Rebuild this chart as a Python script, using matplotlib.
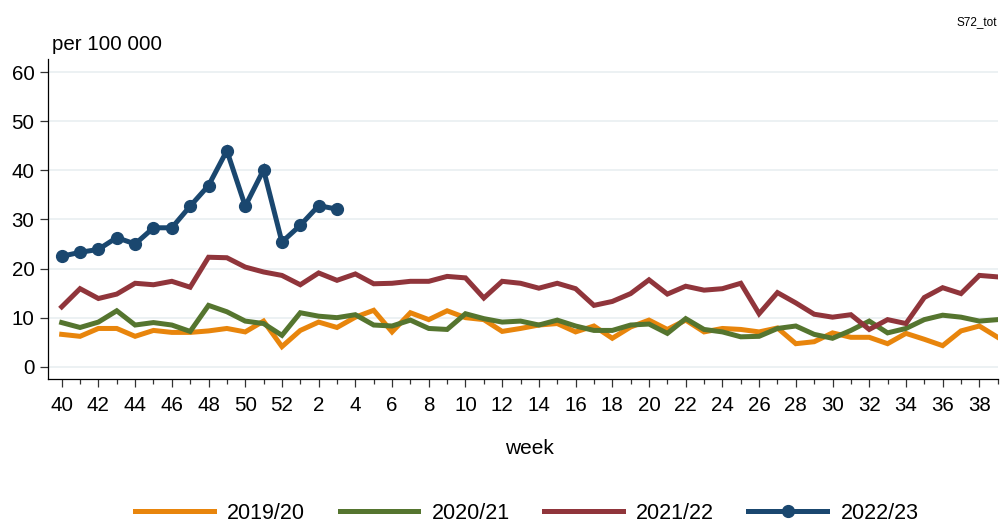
import matplotlib
matplotlib.use("Agg")
import matplotlib.pyplot as plt

plt.rcParams['font.family'] = ['Liberation Sans', 'DejaVu Sans']

weeks = list(range(40, 53)) + list(range(1, 40))
tick_weeks = [w for w in weeks if w % 2 == 0]

s2019 = [6.6, 6.2, 7.8, 7.8, 6.2, 7.4, 7.0, 7.0, 7.3, 7.8,
         7.1, 9.3, 4.1, 7.4, 9.1, 8.0, 10.1, 11.5, 7.1, 11.0,
         9.6, 11.4, 10.0, 9.6, 7.2, 7.8, 8.5, 8.8, 7.1, 8.3,
         5.8, 8.1, 9.5, 7.6, 9.5, 7.1, 7.8, 7.6, 7.1, 7.9,
         4.7, 5.1, 6.9, 6.0, 6.0, 4.7, 6.8, 5.6, 4.3, 7.3,
         8.3, 6.0]
s2020 = [9.0, 8.0, 9.1, 11.4, 8.5, 9.0, 8.5, 7.2, 12.5, 11.2,
         9.3, 8.8, 6.4, 11.0, 10.3, 10.0, 10.6, 8.5, 8.3, 9.5,
         7.8, 7.6, 10.8, 9.8, 9.1, 9.3, 8.5, 9.5, 8.3, 7.4,
         7.4, 8.5, 8.7, 6.8, 9.8, 7.6, 7.1, 6.1, 6.2, 7.8,
         8.3, 6.6, 5.8, 7.4, 9.3, 6.9, 7.8, 9.6, 10.5, 10.1,
         9.3, 9.6]
s2021 = [12.2, 15.9, 13.9, 14.8, 17.0, 16.7, 17.4, 16.2, 22.3, 22.2,
         20.3, 19.3, 18.6, 16.7, 19.1, 17.6, 18.9, 16.9, 17.0, 17.4,
         17.4, 18.4, 18.1, 14.0, 17.4, 17.0, 16.0, 17.0, 15.9, 12.5,
         13.3, 14.9, 17.7, 14.8, 16.4, 15.6, 15.9, 17.0, 10.8, 15.1,
         13.0, 10.7, 10.1, 10.6, 7.6, 9.6, 8.8, 14.1, 16.1, 14.9,
         18.6, 18.3]
s2022 = [22.5, 23.3, 23.9, 26.3, 25.0, 28.3, 28.3, 32.7, 36.9, 44.0,
         32.7, 40.1, 25.4, 28.8, 32.8, 32.1]

seasons = ['2019/20', '2020/21', '2021/22', '2022/23']
colors = ['#E8850C', '#55752F', '#90353B', '#1A476F']

W, H = 1008, 524
fig = plt.figure(figsize=(W / 100, H / 100), dpi=100)
ax = fig.add_axes([48.3 / W, 1 - 379.3 / H, (997.7 - 48.3) / W, (379.3 - 59.3) / H])

x = list(range(len(weeks)))
lw = 3.6
ax.plot(x, s2019, color=colors[0], lw=lw, label=seasons[0], solid_joinstyle='miter')
ax.plot(x, s2020, color=colors[1], lw=lw, label=seasons[1], solid_joinstyle='miter')
ax.plot(x, s2021, color=colors[2], lw=lw, label=seasons[2], solid_joinstyle='miter')
ax.plot(x[:len(s2022)], s2022, color=colors[3], lw=lw, marker='o', ms=8.5,
        label=seasons[3], solid_joinstyle='miter')

ax.set_xlim(-0.73, 51)
ax.set_ylim(-2.55, 62.6)
ax.set_yticks(range(0, 61, 10))
ax.set_xticks([x[weeks.index(w)] for w in tick_weeks])
ax.set_xticklabels([str(w) for w in tick_weeks])
ax.set_xticks([x[i] for i, w in enumerate(weeks) if w % 2 == 1], minor=True)

ax.grid(axis='y', color='#EAF0F2', lw=1.3)
ax.set_axisbelow(True)
for s in ['top', 'right']:
    ax.spines[s].set_visible(False)
for s in ['left', 'bottom']:
    ax.spines[s].set_linewidth(0.9)
ax.tick_params(axis='both', which='major', labelsize=14.8, length=6, width=0.9, color='#333333')
ax.tick_params(axis='x', which='major', pad=6)
ax.tick_params(axis='y', which='major', pad=4)
ax.tick_params(axis='x', which='minor', length=3.5, width=0.9, color='#333333')

# label top at ~439 px from the top of the figure
ax.set_xlabel('week', fontsize=15)
ax.xaxis.set_label_coords((529.5 - 48.3) / (997.7 - 48.3), 1 - (439 - 59.3) / 320)

fig.text(52 / W, 1 - 44 / H, 'per 100 000', fontsize=14.8, va='center', ha='left')
fig.text(997 / W, 1 - 22.5 / H, 'S72_tot', fontsize=8.5, va='center', ha='right')

fig.legend(loc='center', bbox_to_anchor=(526.8 / W, 1 - 513.3 / H), ncol=4, frameon=False,
           fontsize=15.5, handlelength=3.65, handletextpad=0.62, columnspacing=1.6,
           borderpad=0, borderaxespad=0)

fig.savefig('out.png', dpi=100)
